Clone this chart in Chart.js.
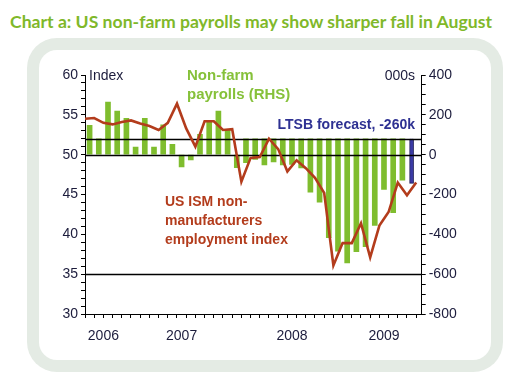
<!DOCTYPE html>
<html><head><meta charset="utf-8">
<script src="https://cdn.jsdelivr.net/npm/chart.js@4"></script>
<style>
html,body{margin:0;padding:0;background:#fff;}
#wrap{position:relative;width:510px;height:381px;overflow:hidden;background:#fff;}
#title{position:absolute;left:10px;top:11px;font-family:"Lato",sans-serif;font-weight:bold;font-size:17px;color:#7fb82a;white-space:nowrap;transform-origin:0 0;}
#panel{position:absolute;left:27px;top:38px;width:476px;height:334px;border-radius:30px;background:#e4ebe4;}
#inner{position:absolute;left:12px;top:12px;right:12px;bottom:12px;background:#fff;border-radius:18px;}
canvas{position:absolute;left:0;top:0;}
</style></head>
<body>
<div id="wrap">
  <div id="title">Chart a: US non-farm payrolls may show sharper fall in August</div>
  <div id="panel"><div id="inner"></div></div>
  <canvas id="c" width="510" height="381"></canvas>
</div>
<script>
// ---- data ----
const ismMonths = ['Aug 2006','Sep 2006','Oct 2006','Nov 2006','Dec 2006',
  'Jan 2007','Feb 2007','Mar 2007','Apr 2007','May 2007','Jun 2007','Jul 2007','Aug 2007','Sep 2007','Oct 2007','Nov 2007','Dec 2007',
  'Jan 2008','Feb 2008','Mar 2008','Apr 2008','May 2008','Jun 2008','Jul 2008','Aug 2008','Sep 2008','Oct 2008','Nov 2008','Dec 2008',
  'Jan 2009','Feb 2009','Mar 2009','Apr 2009','May 2009','Jun 2009','Jul 2009','Aug 2009'];
const ism = [54.5,54.6,54.0,53.8,54.1,54.3,53.9,53.6,53.1,54.0,56.4,53.3,51.0,54.2,54.2,53.1,53.2,
  46.6,49.6,49.7,52.0,50.7,47.9,49.3,48.3,47.1,45.2,36.1,38.9,38.9,41.4,37.1,41.1,42.8,46.5,44.9,46.5];

const payrollMonths = ['Sep 2006','Oct 2006','Nov 2006','Dec 2006',
  'Jan 2007','Feb 2007','Mar 2007','Apr 2007','May 2007','Jun 2007','Jul 2007','Aug 2007','Sep 2007','Oct 2007','Nov 2007','Dec 2007',
  'Jan 2008','Feb 2008','Mar 2008','Apr 2008','May 2008','Jun 2008','Jul 2008','Aug 2008','Sep 2008','Oct 2008','Nov 2008','Dec 2008',
  'Jan 2009','Feb 2009','Mar 2009','Apr 2009','May 2009','Jun 2009','Jul 2009'];
const payrolls = [147,80,264,219,182,38,182,38,150,52,-62,-26,102,165,219,125,-65,
  -40,-24,-52,-36,-51,-49,-66,-188,-238,-417,-484,-543,-487,-462,-355,-174,-291,-128];
const payrollBase = [0,0,0,0,0,0,0,0,0,0,0,0,0,0,0,0,0,
  80,80,80,80,80,80,80,80,80,80,80,80,80,80,80,80,80,80];
const forecastMonth = 'Aug 2009';
const forecastBase = 80;
const forecastValue = -144;

const years = ['2006','2007','2008','2009'];
const leftLabels = [30,35,40,45,50,55,60];
const rightLabels = [-800,-600,-400,-200,0,200,400];
const referenceLines = [52, 50, 35];

// ---- styling ----
const GREEN = '#7fbd2e', RUST = '#b33c1c', NAVY = '#2e3192', INK = '#1c1c3c';
const FONT = '"Liberation Sans", Arial, sans-serif';

// fit title width
(function(){
  const t = document.getElementById('title');
  const w = t.getBoundingClientRect().width;
  t.style.transform = 'scaleX(' + (482 / w) + ')';
})();

const pos = m => ismMonths.indexOf(m);

const yearTicks = years.map(y => {
  const idx = ismMonths.map((m,i)=>m.endsWith(y)?i:-1).filter(i=>i>=0);
  return {value: idx.reduce((a,b)=>a+b,0)/idx.length, yearLabel: y, isYear: true};
});

function rangeTicks(min, max, step){ const a=[]; for(let v=min; v<=max+1e-9; v+=step) a.push({value: Math.round(v*1000)/1000}); return a; }

const overlay = {
  id: 'overlay',
  beforeDatasetDraw(chart, args){
    if (args.index !== 0) return;
    const {ctx, chartArea} = chart; const y = chart.scales.y;
    ctx.save(); ctx.strokeStyle = '#000'; ctx.lineWidth = 1.3;
    referenceLines.forEach(v => { const p = Math.round(y.getPixelForValue(v)) + 0.5;
      ctx.beginPath(); ctx.moveTo(chartArea.left, p); ctx.lineTo(chartArea.right, p); ctx.stroke(); });
    ctx.restore();
  },
  afterDraw(chart){
    const ctx = chart.ctx;
    const texts = [
      {t:'Index', x:89, y:76, f:'14px', c:INK, a:'left'},
      {t:'000s', x:415, y:76, f:'14px', c:INK, a:'right'},
      {t:'Non-farm', x:187, y:76, f:'bold 15px', c:'#86c13a', a:'left'},
      {t:'payrolls (RHS)', x:187, y:95, f:'bold 15px', c:'#86c13a', a:'left'},
      {t:'LTSB forecast, -260k', x:415, y:125, f:'bold 14px', c:NAVY, a:'right'},
      {t:'US ISM non-', x:165, y:202, f:'bold 14px', c:RUST, a:'left'},
      {t:'manufacturers', x:165, y:221, f:'bold 14px', c:RUST, a:'left'},
      {t:'employment index', x:165, y:240, f:'bold 14px', c:RUST, a:'left'}
    ];
    ctx.save(); ctx.textBaseline = 'middle';
    texts.forEach(o => { ctx.font = o.f + ' ' + FONT; ctx.fillStyle = o.c; ctx.textAlign = o.a; ctx.fillText(o.t, o.x, o.y); });
    ctx.restore();
  }
};

new Chart(document.getElementById('c'), {
  data: {
    datasets: [
      {type:'line', label:'US ISM non-manufacturers employment index', yAxisID:'y', xAxisID:'x',
       data: ism.map((v,i)=>({x: pos(ismMonths[i]), y: v})),
       borderColor: RUST, borderWidth: 2.6, pointRadius: 0, tension: 0, order: 0},
      {type:'bar', label:'Non-farm payrolls (RHS)', yAxisID:'y2', xAxisID:'x',
       data: payrolls.map((v,k)=>({x: pos(payrollMonths[k]) - 0.5, y: [payrollBase[k], v]})),
       backgroundColor: GREEN, borderWidth: 0, barThickness: 5, grouped: false, order: 2},
      {type:'bar', label:'LTSB forecast', yAxisID:'y2', xAxisID:'x',
       data: [{x: pos(forecastMonth) - 0.5, y: [forecastBase, forecastValue]}],
       backgroundColor: '#3a3aa6', borderColor: '#1a1a55', borderWidth: 1, barThickness: 4, grouped: false, order: 1}
    ]
  },
  options: {
    responsive: false, animation: false, devicePixelRatio: 1,
    layout: {padding: {top: 75, bottom: 0, left: 0, right: 0}},
    plugins: {legend: {display: false}, tooltip: {enabled: false}},
    scales: {
      x: {type:'linear', min: 0, max: 36.6, offset: false, position: 'bottom',
          afterBuildTicks: s => { s.ticks = rangeTicks(0, 36, 1).concat(yearTicks.map(t=>Object.assign({},t))).sort((a,b)=>a.value-b.value); },
          afterFit: s => { s.height = 67; },
          grid: {drawOnChartArea: false, drawTicks: true, tickLength: 4, offset: false,
                 tickColor: c => (c.tick && c.tick.isYear) ? 'rgba(0,0,0,0)' : '#000', tickWidth: 1},
          border: {display: true, color: '#000', width: 1},
          ticks: {autoSkip: false, maxRotation: 0, minRotation: 0, padding: 10, color: INK,
                  font: {family: FONT, size: 14},
                  callback: (v, i, ticks) => ticks[i].isYear ? ticks[i].yearLabel : ''}},
      y: {type:'linear', position:'left', min: 30, max: 60,
          afterBuildTicks: s => { s.ticks = rangeTicks(30, 60, 1); },
          afterFit: s => { s.width = 85; },
          grid: {drawOnChartArea: false, drawTicks: true, tickLength: 4, color: '#000'},
          border: {display: true, color: '#000', width: 1},
          ticks: {autoSkip: false, padding: 3, color: INK, font: {family: FONT, size: 14},
                  callback: v => leftLabels.includes(v) ? String(v) : ''}},
      y2: {type:'linear', position:'right', min: -800, max: 400,
          afterBuildTicks: s => { s.ticks = rangeTicks(-800, 400, 50); },
          afterFit: s => { s.width = 510 - 421.7; },
          grid: {drawOnChartArea: false, drawTicks: true, tickLength: 4, color: '#000'},
          border: {display: true, color: '#000', width: 1},
          ticks: {autoSkip: false, padding: 3, color: INK, font: {family: FONT, size: 14},
                  callback: v => rightLabels.includes(v) ? String(v) : ''}}
    }
  },
  plugins: [overlay]
});
</script>
</body></html>
